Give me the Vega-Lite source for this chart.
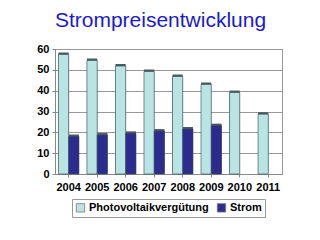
{
  "$schema": "https://vega.github.io/schema/vega-lite/v6.json",
  "width": 227,
  "height": 125,
  "autosize": {"type": "none"},
  "padding": {"left": 55, "top": 49, "right": 38, "bottom": 66},
  "title": {"text": "Strompreisentwicklung", "font": "Liberation Sans", "fontSize": 21, "fontWeight": "normal", "color": "#1a1ad0", "anchor": "middle", "dx": -8, "offset": 12},
  "data": {"values": [
    {"year": "2004", "series": "Photovoltaikvergütung", "value": 57.4},
    {"year": "2005", "series": "Photovoltaikvergütung", "value": 54.5},
    {"year": "2006", "series": "Photovoltaikvergütung", "value": 51.8},
    {"year": "2007", "series": "Photovoltaikvergütung", "value": 49.2},
    {"year": "2008", "series": "Photovoltaikvergütung", "value": 46.8},
    {"year": "2009", "series": "Photovoltaikvergütung", "value": 43.0},
    {"year": "2010", "series": "Photovoltaikvergütung", "value": 39.1},
    {"year": "2011", "series": "Photovoltaikvergütung", "value": 28.7},
    {"year": "2004", "series": "Strom", "value": 18.0},
    {"year": "2005", "series": "Strom", "value": 18.7},
    {"year": "2006", "series": "Strom", "value": 19.5},
    {"year": "2007", "series": "Strom", "value": 20.6},
    {"year": "2008", "series": "Strom", "value": 21.6},
    {"year": "2009", "series": "Strom", "value": 23.2}
  ]},
  "encoding": {
    "x": {"field": "year", "type": "nominal", "title": null,
      "scale": {"paddingInner": 0.28, "paddingOuter": 0.12},
      "axis": {"labelAngle": 0, "labelFont": "Liberation Sans", "labelFontWeight": "bold", "labelFontSize": 11, "labelColor": "#000", "domainColor": "#888", "tickColor": "#888", "tickSize": 3, "labelPadding": 4}},
    "xOffset": {"field": "series", "type": "nominal", "sort": ["Photovoltaikvergütung", "Strom"]},
    "y": {"field": "value", "type": "quantitative", "title": null,
      "scale": {"domain": [0, 60]},
      "axis": {"values": [0, 10, 20, 30, 40, 50, 60], "labelFont": "Liberation Sans", "labelFontWeight": "bold", "labelFontSize": 11, "labelColor": "#000", "domainColor": "#888", "tickColor": "#888", "tickSize": 3, "gridColor": "#999", "labelPadding": 3}}
  },
  "layer": [
    {
      "mark": {"type": "bar", "xOffset": 3, "yOffset": -2, "color": "#4a5a60"},
      "encoding": {}
    },
    {
      "mark": {"type": "bar", "stroke": "#3a4a50", "strokeWidth": 0.6},
      "encoding": {
        "color": {"field": "series", "type": "nominal", "sort": ["Photovoltaikvergütung", "Strom"],
          "scale": {"domain": ["Photovoltaikvergütung", "Strom"], "range": ["#b8e4e4", "#2c2c90"]},
          "legend": {"title": null, "orient": "none", "legendX": 17, "legendY": 150, "direction": "horizontal", "strokeColor": "#999", "padding": 3, "labelFont": "Liberation Sans", "labelFontWeight": "bold", "labelFontSize": 11, "labelColor": "#000", "symbolType": "square", "symbolSize": 70, "symbolStrokeColor": "#777", "symbolStrokeWidth": 0.8, "columnPadding": 6, "labelOffset": 3, "symbolOffset": 0}}
      }
    }
  ],
  "config": {"view": {"stroke": "#999"}, "background": "white"}
}
